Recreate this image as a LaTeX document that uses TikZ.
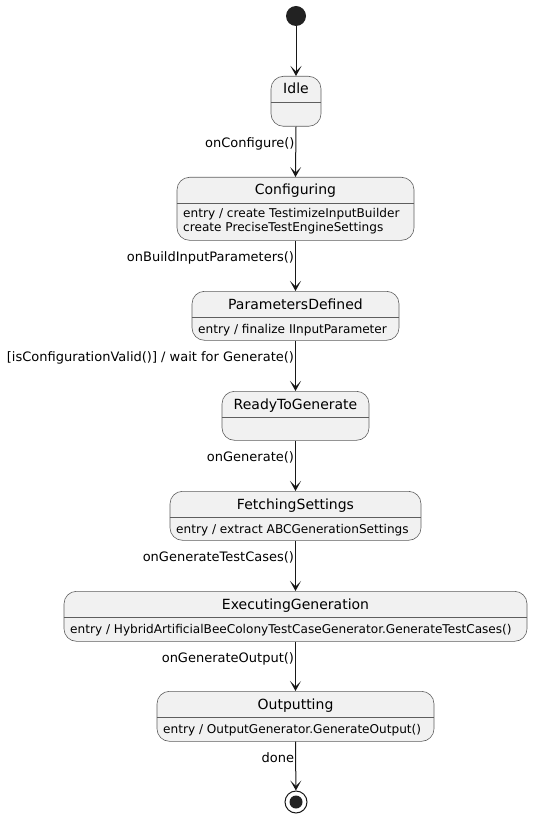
\documentclass[tikz,border=0pt]{standalone}
\usepackage{fontspec}
\setmainfont{DejaVu Sans}
\usetikzlibrary{arrows.meta}
\definecolor{stfill}{HTML}{F1F1F1}
\definecolor{stline}{HTML}{181818}
\definecolor{stborder}{HTML}{5E5E5E}
\definecolor{dotfill}{HTML}{222222}
\begin{document}
\begin{tikzpicture}[x=1pt,y=-1pt,
  statebox/.style={draw=stborder, line width=0.6pt, fill=stfill,
    rounded corners=12.5pt, inner sep=0pt, anchor=north},
  sepline/.style={draw=stborder, line width=0.6pt},
  titletext/.style={inner sep=0pt, anchor=base,
    font=\fontsize{14}{16}\selectfont},
  desctext/.style={inner sep=0pt, anchor=base west,
    font=\fontsize{12.1}{14}\selectfont},
  translabel/.style={inner sep=0pt, anchor=base east, pos=0,
    xshift=-1pt, yshift=-21pt, font=\fontsize{13}{15}\selectfont},
  trans/.style={draw=stline, line width=1pt,
    -{Stealth[length=10pt,width=11pt,inset=5.5pt]}},
]
\useasboundingbox (0,0) rectangle (533,818);

% pseudo states
\node[circle, fill=dotfill, minimum size=20pt, inner sep=0pt] (start) at (296,16) {};
\node[circle, draw=stline, line width=1pt, fill=white, minimum size=22pt, inner sep=0pt] (stop) at (296,802) {};
\node[circle, fill=dotfill, minimum size=13pt, inner sep=0pt] at (stop) {};

% states: outline boxes
\node[statebox, minimum width=50pt,  minimum height=50pt] (idle) at (296,76)  {};
\node[statebox, minimum width=237pt, minimum height=63pt] (conf) at (295.5,177) {};
\node[statebox, minimum width=207pt, minimum height=49pt] (pdef) at (295.5,291) {};
\node[statebox, minimum width=147pt, minimum height=49pt] (ready) at (295.5,391) {};
\node[statebox, minimum width=251pt, minimum height=49pt] (fetch) at (295.5,491) {};
\node[statebox, minimum width=463pt, minimum height=50pt] (exec) at (295.5,591) {};
\node[statebox, minimum width=277pt, minimum height=50pt] (outp) at (295.5,691) {};

% separators between name and activities
\foreach \s in {idle,conf,pdef,ready,fetch,exec,outp}
  \draw[sepline] ([yshift=-26pt]\s.north west) -- ([yshift=-26pt]\s.north east);

% state names
\node[titletext] at (296,94)   {Idle};
\node[titletext] at (295.5,195) {Configuring};
\node[titletext] at (295.5,309) {ParametersDefined};
\node[titletext] at (295.5,409) {ReadyToGenerate};
\node[titletext] at (295.5,509) {FetchingSettings};
\node[titletext] at (295.5,609) {ExecutingGeneration};
\node[titletext] at (295.5,709) {Outputting};

% entry activities
\node[desctext] at (183,218) {entry / create TestimizeInputBuilder};
\node[desctext] at (183,232) {create PreciseTestEngineSettings};
\node[desctext] at (198,333) {entry / finalize IInputParameter};
\node[desctext] at (176,533) {entry / extract ABCGenerationSettings};
\node[desctext] at (70,633)  {entry / HybridArtificialBeeColonyTestCaseGenerator.GenerateTestCases()};
\node[desctext] at (163,733) {entry / OutputGenerator.GenerateOutput()};

% transitions
\draw[trans] (start) -- (idle.north);
\draw[trans] (idle.south) -- node[translabel] {onConfigure()} (conf.north);
\draw[trans] (conf.south) -- node[translabel] {onBuildInputParameters()} (pdef.north);
\draw[trans] (pdef.south) -- node[translabel] {[isConfigurationValid()] / wait for Generate()} (ready.north);
\draw[trans] (ready.south) -- node[translabel] {onGenerate()} (fetch.north);
\draw[trans] (fetch.south) -- node[translabel] {onGenerateTestCases()} (exec.north);
\draw[trans] (exec.south) -- node[translabel] {onGenerateOutput()} (outp.north);
\draw[trans] (outp.south) -- node[translabel] {done} (stop);
\end{tikzpicture}
\end{document}
